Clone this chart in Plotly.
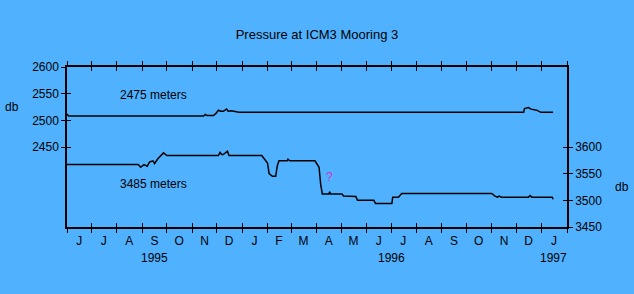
import datetime as dt
import plotly.graph_objects as go

# ---------------- data ----------------
upper_dates = ["1995-06-01", "1995-06-03", "1995-11-15", "1995-11-17", "1995-11-19",
               "1995-11-27", "1995-11-30", "1995-12-03", "1995-12-06", "1995-12-09",
               "1995-12-13", "1995-12-15", "1995-12-19", "1995-12-23", "1995-12-28",
               "1996-12-10", "1996-12-11", "1996-12-16", "1996-12-19", "1996-12-26",
               "1996-12-31", "1997-01-15"]
upper_vals = [2512, 2508, 2508, 2511, 2509,
              2509, 2513, 2519, 2517, 2517,
              2521, 2517, 2518, 2517, 2515,
              2515, 2522, 2524, 2521, 2519,
              2515, 2515]

lower_dates = ["1995-06-01", "1995-08-27", "1995-08-30", "1995-09-03", "1995-09-07",
               "1995-09-10", "1995-09-14", "1995-09-16", "1995-09-20", "1995-09-25",
               "1995-09-27", "1995-10-01", "1995-12-03", "1995-12-05", "1995-12-07",
               "1995-12-09", "1995-12-14", "1995-12-16", "1996-01-25", "1996-01-28",
               "1996-02-01", "1996-02-03", "1996-02-07", "1996-02-11", "1996-02-13",
               "1996-02-15", "1996-02-25", "1996-02-26", "1996-02-28", "1996-03-30",
               "1996-04-02", "1996-04-04", "1996-04-06", "1996-04-08", "1996-04-16",
               "1996-04-17", "1996-04-18", "1996-05-02", "1996-05-04", "1996-05-19",
               "1996-05-21", "1996-06-10", "1996-06-12", "1996-07-02", "1996-07-03",
               "1996-07-10", "1996-07-14", "1996-11-01", "1996-11-05", "1996-11-08",
               "1996-11-10", "1996-11-13", "1996-12-16", "1996-12-18", "1996-12-20",
               "1997-01-14", "1997-01-15"]
lower_vals = [3567, 3567, 3562, 3567, 3564,
              3572, 3574, 3569, 3578, 3586,
              3589, 3584, 3584, 3590, 3586,
              3586, 3592, 3584, 3584, 3578,
              3570, 3550, 3545, 3545, 3565,
              3574, 3574, 3577, 3574, 3574,
              3567, 3562, 3530, 3512, 3512,
              3516, 3512, 3512, 3508, 3507,
              3500, 3500, 3494, 3494, 3506,
              3506, 3513, 3513, 3508, 3506,
              3508, 3506, 3506, 3509, 3506,
              3506, 3502]

month_letters = ["J", "J", "A", "S", "O", "N", "D", "J", "F", "M",
                 "A", "M", "J", "J", "A", "S", "O", "N", "D", "J"]
year_labels = ["1995", "1996", "1997"]
year_pos = ["1995-09-16", "1996-07-01", "1997-01-16"]

left_ticks = [2450, 2500, 2550, 2600]
right_ticks = [3450, 3500, 3550, 3600]

# ---------------- derived tick positions ----------------
month_starts = []
month_mids = []
y, m = 1995, 6
for _ in range(len(month_letters) + 1):
    month_starts.append(dt.date(y, m, 1).isoformat())
    ny, nm = (y + 1, 1) if m == 12 else (y, m + 1)
    if len(month_mids) < len(month_letters):
        start = dt.date(y, m, 1)
        end = dt.date(ny, nm, 1)
        month_mids.append((start + (end - start) / 2).isoformat())
    y, m = ny, nm

X_RANGE = [month_starts[0], month_starts[-1]]
BG = "#50B2FF"
FONT = "Liberation Sans, Arial, sans-serif"

fig = go.Figure()
fig.add_trace(go.Scatter(x=upper_dates, y=upper_vals, mode="lines",
                         line=dict(color="black", width=1.5), xaxis="x", yaxis="y",
                         showlegend=False, hoverinfo="skip"))
fig.add_trace(go.Scatter(x=lower_dates, y=lower_vals, mode="lines",
                         line=dict(color="black", width=1.5), xaxis="x", yaxis="y2",
                         showlegend=False, hoverinfo="skip"))

axis_common = dict(showgrid=False, zeroline=False, tickcolor="black", tickwidth=1,
                   ticklen=4, linecolor="black", linewidth=1.5)

fig.update_layout(
    width=634, height=294,
    margin=dict(l=67, r=67, t=67, b=67),
    paper_bgcolor=BG, plot_bgcolor=BG,
    font=dict(family=FONT, size=12, color="black"),
    title=dict(text="Pressure at ICM3 Mooring 3", x=0.5, xanchor="center",
               y=1 - 34 / 294, yanchor="middle", font=dict(size=13)),
    xaxis=dict(type="date", range=X_RANGE, tickvals=month_starts, ticks="outside",
               showticklabels=False, showline=True, mirror="ticks", **axis_common),
    xaxis2=dict(type="date", range=X_RANGE, tickvals=month_starts, ticks="inside",
                showticklabels=False, showline=False, mirror="ticks", overlaying="x",
                **{k: v for k, v in axis_common.items() if k not in ("linecolor", "linewidth")}),
    xaxis3=dict(type="date", range=X_RANGE, tickvals=month_mids, ticktext=month_letters,
                ticks="outside", ticklen=3, tickcolor="rgba(0,0,0,0)",
                showline=False, overlaying="x", side="bottom",
                showgrid=False, zeroline=False, tickfont=dict(size=12)),
    yaxis=dict(range=[2300, 2600], tickvals=left_ticks, ticks="outside", showline=True,
               **axis_common),
    yaxis3=dict(range=[2300, 2600], tickvals=left_ticks, ticks="inside", showline=False,
                showticklabels=False, overlaying="y", showgrid=False, zeroline=False,
                tickcolor="black", ticklen=4, tickwidth=1),
    yaxis2=dict(range=[3450, 3750], tickvals=right_ticks, ticks="outside", showline=True,
                overlaying="y", side="right", **axis_common),
    yaxis4=dict(range=[3450, 3750], tickvals=right_ticks, ticks="inside", showline=False,
                showticklabels=False, overlaying="y", side="right", showgrid=False,
                zeroline=False, tickcolor="black", ticklen=4, tickwidth=1),
)

# invisible traces to activate overlay axes
for xa, ya in [("x2", "y"), ("x3", "y3"), ("x", "y4")]:
    fig.add_trace(go.Scatter(x=[], y=[], xaxis=xa, yaxis=ya, showlegend=False))

annotations = []
for txt, pos in zip(year_labels, year_pos):
    annotations.append(dict(text=txt, x=pos, xref="x", y=-(258 - 227) / 160, yref="paper",
                            showarrow=False, yanchor="middle", font=dict(size=12)))
annotations += [
    dict(text="db", x=-55 / 500, xref="paper", y=(227 - 107) / 160, yref="paper",
         showarrow=False, xanchor="center", yanchor="middle"),
    dict(text="db", x=1 + 55 / 500, xref="paper", y=(227 - 187) / 160, yref="paper",
         showarrow=False, xanchor="center", yanchor="middle"),
    dict(text="2475 meters", x="1995-09-15", xref="x", y=(227 - 95) / 160, yref="paper",
         showarrow=False, yanchor="middle", font=dict(size=12)),
    dict(text="3485 meters", x="1995-09-15", xref="x", y=(227 - 184) / 160, yref="paper",
         showarrow=False, yanchor="middle", font=dict(size=12)),
    dict(text="?", x="1996-04-17", xref="x", y=(227 - 177) / 160, yref="paper",
         showarrow=False, yanchor="middle", font=dict(size=12, color="#D030D0")),
]
fig.update_layout(annotations=annotations)

fig.write_html("out.html")
